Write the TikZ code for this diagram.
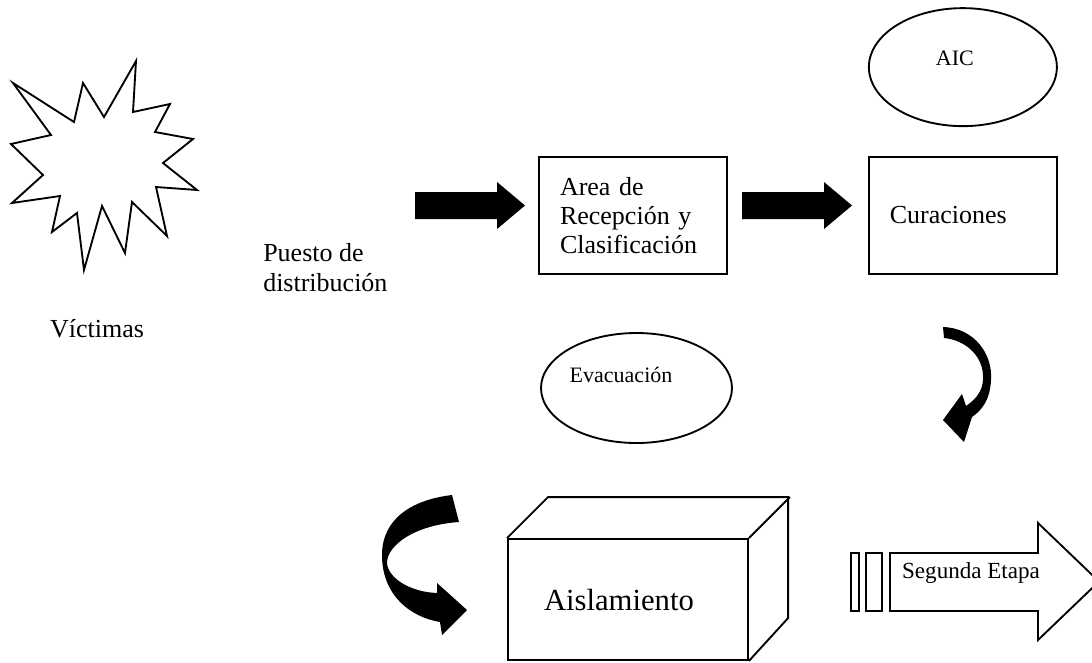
\documentclass[tikz,border=0pt]{standalone}
\usepackage{fontspec}
\setmainfont{Liberation Serif}
\usepackage{tikz}
\usetikzlibrary{shapes.geometric, positioning}
\tikzstyle{outline} = [draw=black, line width=1.4pt, line join=miter]
\tikzstyle{box} = [rectangle, outline, minimum width=141pt, minimum height=87.75pt, text width=109.5pt, align=left, inner xsep=15.75pt, font=\fontsize{19.5}{21.75}\selectfont]
\tikzstyle{oval} = [ellipse, outline, inner sep=0pt]
\tikzstyle{ovaltext} = [font=\fontsize{16.5}{19}\selectfont]
\tikzstyle{plaintext} = [align=left, inner sep=0pt, font=\fontsize{19.5}{22.5}\selectfont]
\tikzstyle{blockarrow} = [fill=black]

\begin{document}
\begin{tikzpicture}[x=0.75pt, y=-0.75pt]
\useasboundingbox (0,0) rectangle (1092,662);

% burst for the victims
\draw[outline] (13,83) -- (74,122) -- (83,83) -- (104,117) -- (136,61) -- (133,112) -- (170,104) -- (155,132) -- (193,139) -- (163,163) -- (197,190) -- (156,187) -- (167,236) -- (132,202) -- (125,253) -- (102,206) -- (84,270) -- (77,213) -- (52,232) -- (60,196) -- (12,203) -- (43,175) -- (11,144) -- (51,135) -- cycle;
\node[plaintext] (victimas) at (97,329) {Víctimas};
\node[plaintext, anchor=west] (puesto) at (263,268) {Puesto de\\distribución};

% first stage
\node[box] (area) at (633,215.5) {Area de\\Recepción y\\Clasificación};
\node[box, right=105pt of area] (curaciones) {Curaciones};
\node[oval, minimum width=141pt, minimum height=88.5pt, above=21.75pt of curaciones] (aic) {};
\node[ovaltext] (aictext) at ([xshift=-6pt, yshift=6.75pt]aic.center) {AIC};

\foreach \x in {415,742}
  \fill[blockarrow] (\x,192) -- ++(82,0) -- ++(0,-10) -- ++(28,23.5) -- ++(-28,23.5) -- ++(0,-10) -- ++(-82,0) -- cycle;

% turn down
\fill[blockarrow] (943,327) .. controls (975,328) and (993,355) .. (991,380) .. controls (990,400) and (982,410) .. (972,417) -- (964,442) -- (943,420) -- (962,394) -- (966,406) .. controls (978,398) and (984,388) .. (983,375) .. controls (982,355) and (965,340) .. (944,338) -- cycle;

\node[oval, minimum width=143.25pt, minimum height=82.5pt] (evac) at (636.5,388) {};
\node[ovaltext] (evactext) at ([xshift=-11.6pt, yshift=9.75pt]evac.center) {Evacuación};

% isolation block
\fill[blockarrow] (452,495) .. controls (410,500) and (382,520) .. (382,555) .. controls (382,595) and (410,617) .. (440,622) -- (442,635) -- (467,610) -- (437,583) -- (437,593) .. controls (410,592) and (388,578) .. (387,563) .. controls (387,545) and (415,525) .. (459,522) -- cycle;

\node[rectangle, outline, minimum width=180pt, minimum height=90.75pt, text width=126pt, align=left, inner xsep=27pt, font=\fontsize{23}{27}\selectfont] (aislamiento) at (628,599.5) {Aislamiento};
\draw[outline] (aislamiento.north west) -- ++(41,-41) -- ++(240,0) -- ++(0,121) -- (aislamiento.south east);
\draw[outline] (aislamiento.north east) -- ++(41,-41);

% second stage
\draw[outline] (851,553) rectangle (859,611);
\draw[outline] (866,553) rectangle (882,611);
\draw[outline] (890,553) -- (1038,553) -- (1038,523) -- (1099,581.5) -- (1038,640) -- (1038,611) -- (890,611) -- cycle;
\node[font=\fontsize{17.3}{20}\selectfont] (etapa) at (971,573) {Segunda Etapa};
\end{tikzpicture}
\end{document}
